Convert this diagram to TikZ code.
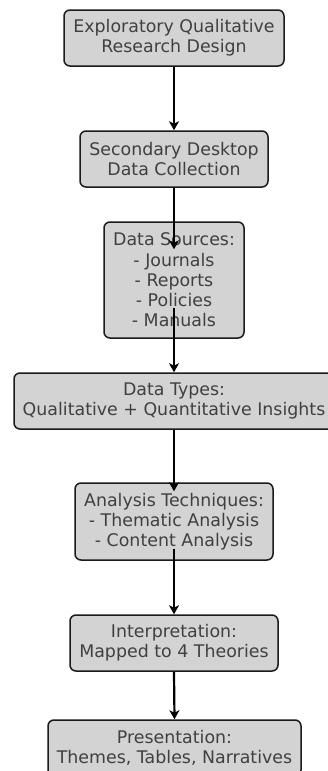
\documentclass[tikz,border=0pt]{standalone}
\usepackage{fontspec}
\setmainfont{DejaVu Sans}
\usetikzlibrary{arrows.meta}
\definecolor{boxfill}{HTML}{D3D3D3}
\definecolor{boxedge}{HTML}{1A1A1A}
\definecolor{boxtext}{HTML}{404040}
\tikzset{
  stepbox/.style={draw=boxedge, fill=boxfill, line width=1.5pt, rounded corners=6pt,
    align=center, text=boxtext, inner sep=0pt,
    font=\fontsize{17.4}{20.3}\selectfont},
  flow/.style={draw=black, line width=2.2pt,
    -{Stealth[length=9pt,width=10pt,inset=2.5pt]}}
}
\begin{document}
\begin{tikzpicture}[x=1pt,y=-1pt]
  \fill[white] (0,0) rectangle (327,771);
  \useasboundingbox (0,0) rectangle (327,771);

  \node[stepbox, minimum width=220pt, minimum height=56pt] (design) at (174,38)
    {Exploratory Qualitative\\Research Design};
  \node[stepbox, minimum width=188pt, minimum height=56pt] (collect) at (174,159)
    {Secondary Desktop\\Data Collection};
  \node[stepbox, minimum width=140pt, minimum height=116pt] (sources) at (174,280)
    {Data Sources:\\- Journals\\- Reports\\- Policies\\- Manuals};
  \node[stepbox, minimum width=320pt, minimum height=56pt] (types) at (174,401)
    {Data Types:\\Qualitative + Quantitative Insights};
  \node[stepbox, minimum width=198pt, minimum height=77pt] (analysis) at (174,521.5)
    {Analysis Techniques:\\- Thematic Analysis\\- Content Analysis};
  \node[stepbox, minimum width=208pt, minimum height=56pt] (interp) at (174,643)
    {Interpretation:\\Mapped to 4 Theories};
  \node[stepbox, minimum width=253pt, minimum height=56pt] (present) at (174.5,748)
    {Presentation:\\Themes, Tables, Narratives};

  % connectors, drawn over the boxes
  \draw[flow] (design.south) -- (collect.north);
  \draw[flow] (collect.south) -- ([yshift=-28pt]sources.north);
  \draw[flow] ([yshift=31pt]sources.south) -- (types.north);
  \draw[flow] (types.south) -- ([yshift=-9pt]analysis.north);
  \draw[flow] ([yshift=12pt]analysis.south) -- (interp.north);
  \draw[flow] (interp.south) -- (present.north);
\end{tikzpicture}
\end{document}
